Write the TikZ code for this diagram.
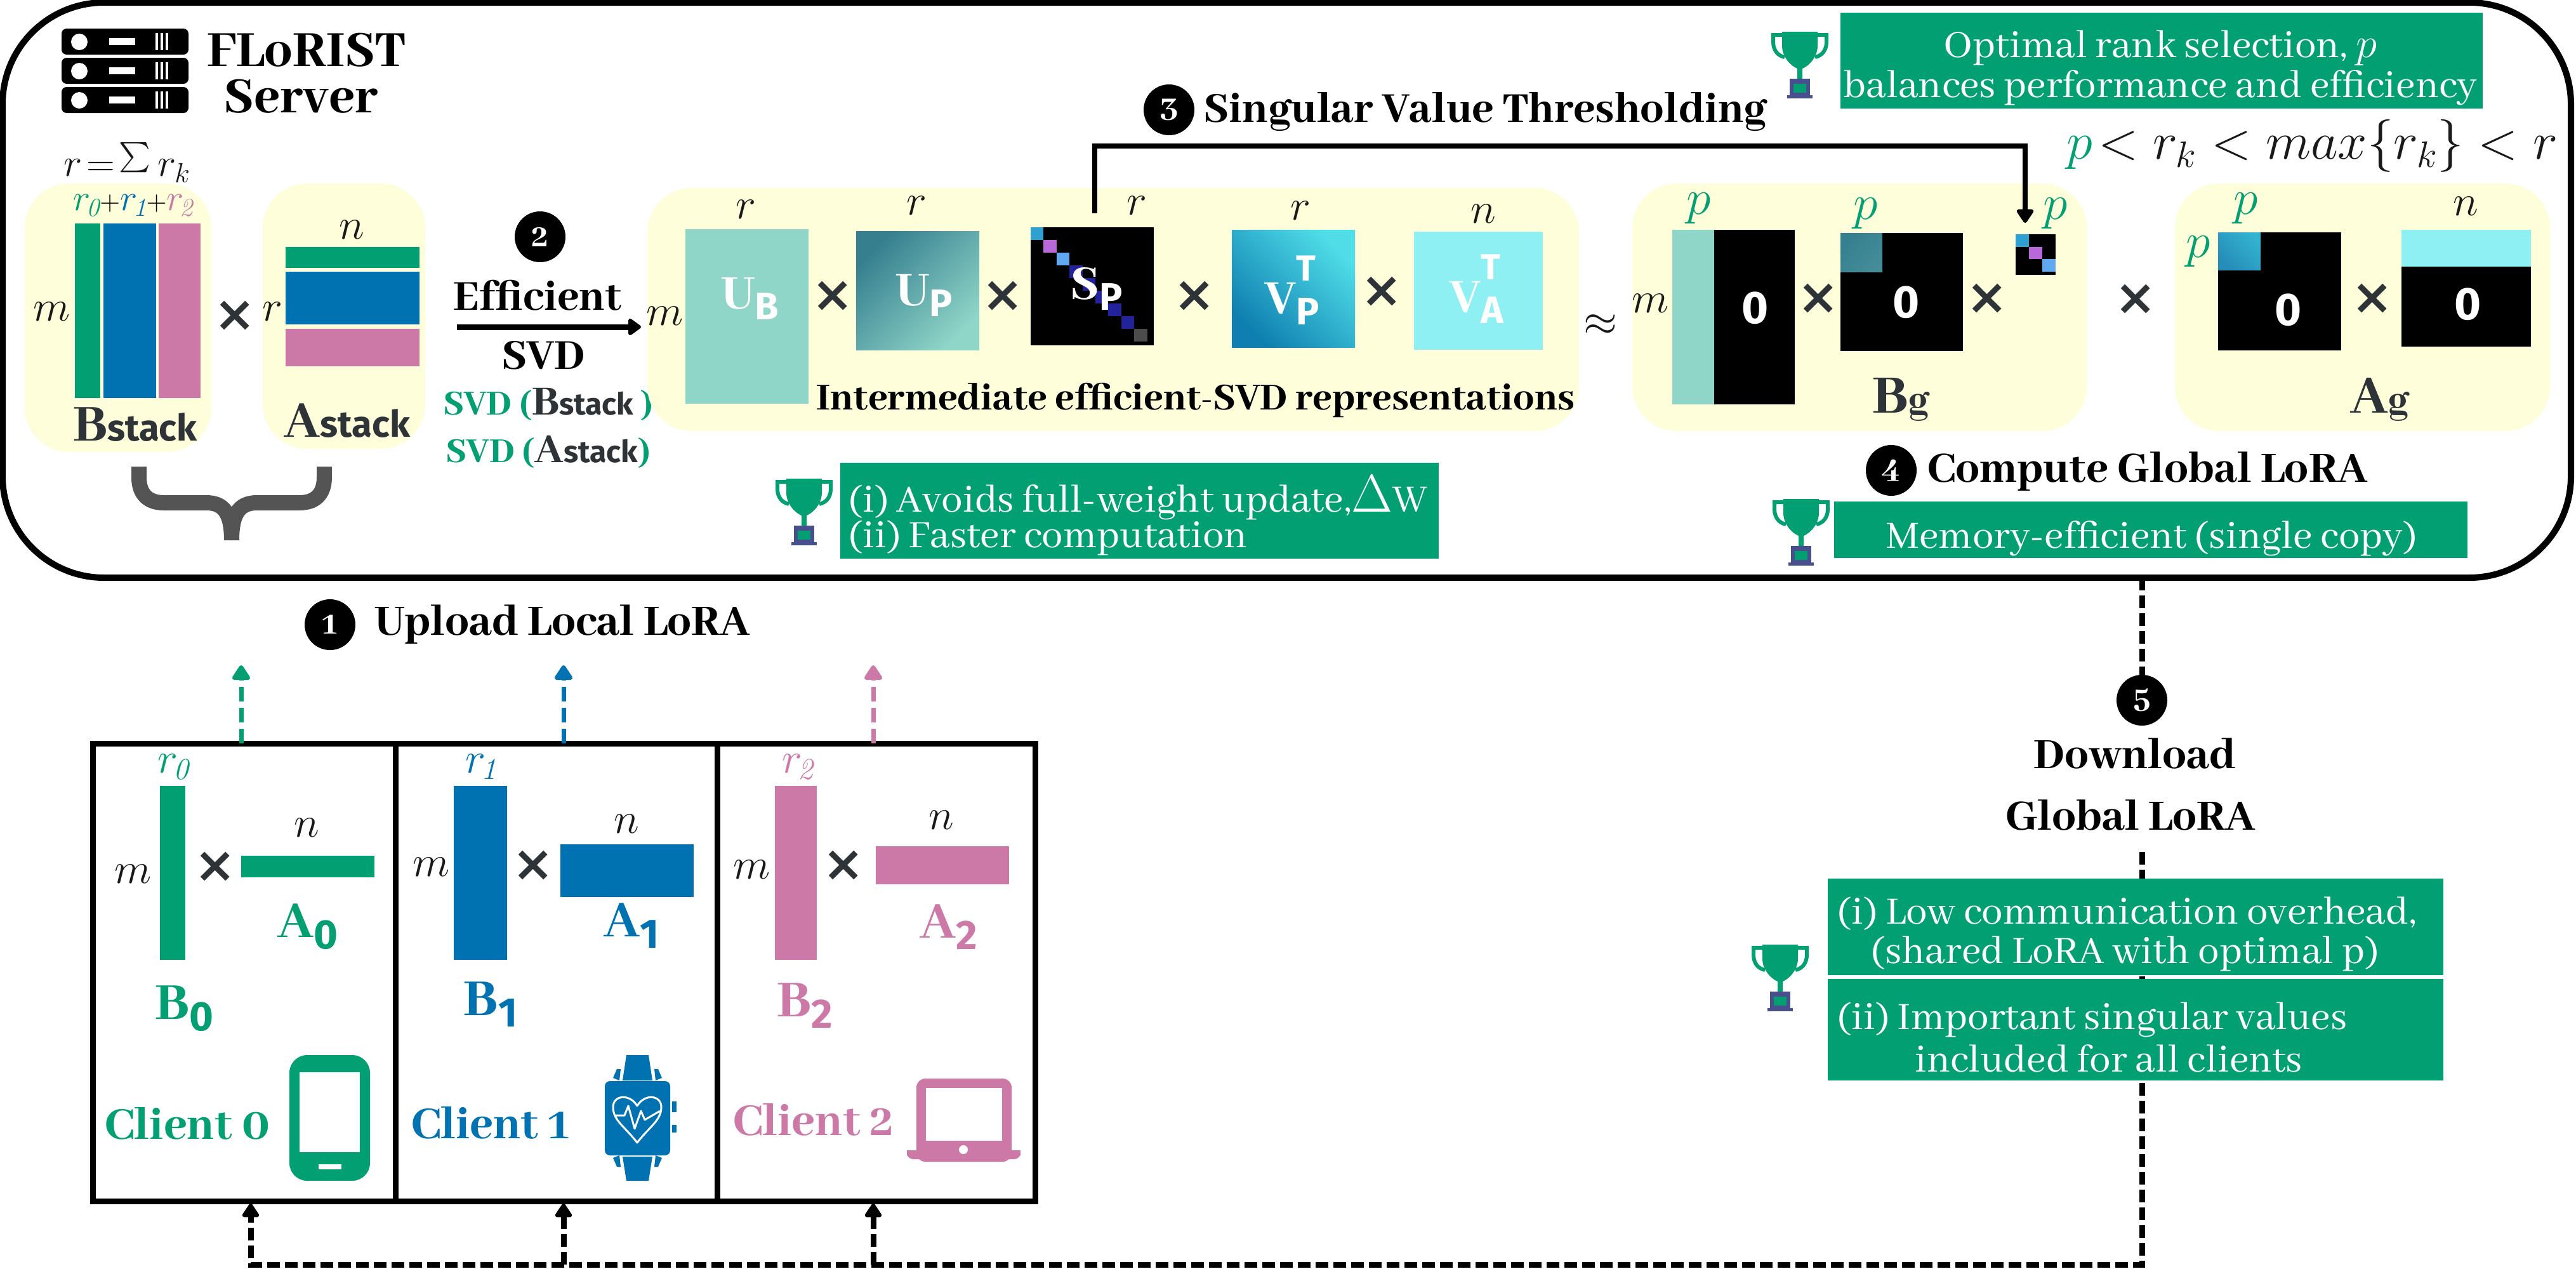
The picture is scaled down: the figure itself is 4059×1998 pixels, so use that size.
\documentclass[tikz,border=0pt]{standalone}
\usepackage{fix-cm}
\usepackage{amsmath}
\usepackage{fontspec}
\usetikzlibrary{arrows.meta,calc}
\newfontfamily\slab{Abhaya Libre}
\newfontfamily\slabx{Abhaya Libre ExtraBold}
\newfontfamily\sansx{Fira Sans}
\newfontfamily\crossfont{DejaVu Sans}
\definecolor{cgreen}{HTML}{029F73}
\definecolor{cblue}{HTML}{0072B2}
\definecolor{cpink}{HTML}{CC79A7}
\definecolor{cyellow}{HTML}{FEFFDA}
\definecolor{cdark}{HTML}{2E3338}
\definecolor{cteal}{HTML}{8FD5C8}
\definecolor{cteald}{HTML}{367F8F}
\definecolor{ccyan}{HTML}{8EF0F2}
\definecolor{cindigo}{HTML}{474F8D}
\definecolor{vplight}{HTML}{50DDE8}
\definecolor{vpdark}{HTML}{0E7FB0}
\definecolor{dgone}{HTML}{30A0D0}
\definecolor{dgtwo}{HTML}{B868D8}
\definecolor{dgthree}{HTML}{60A8F0}
\definecolor{dgfour}{HTML}{22229A}
\newcommand\fs[1]{\fontsize{#1}{#1}\selectfont}
\newcommand\matbox[6]{\node[matcell,minimum width={(#5-#3)*1pt},minimum height={(#6-#4)*1pt},#2] (#1) at ({(#3+#5)/2},{(#4+#6)/2}) {};}
\newcommand\subfig[2]{#1{\raisebox{-.2em}{\fontsize{.72em}{1em}\selectfont\sansx\bfseries #2}}}
\newcommand\rsub[1]{r_{\mkern-2mu\mathit{#1}}}
\newcommand\tinyplus{\mbox{\fs{44}$+$}}
\tikzset{
  matcell/.style={inner sep=0pt,outer sep=0pt,draw=none},
  panel/.style={matcell,fill=cyellow,rounded corners=70pt},
  plain/.style={inner sep=0pt,outer sep=0pt,font=\fs{68},text=black!90},
  plainp/.style={inner sep=0pt,outer sep=0pt,font=\fs{78},text=cgreen},
  rlab/.style={inner sep=0pt,outer sep=0pt,font=\fs{#1}},
  rlab/.default=58,
  cross/.style={inner sep=0pt,text=cdark,font=\crossfont\bfseries\fs{78}},
  head/.style={inner sep=0pt,font=\slabx\fs{#1},text=black,align=center},
  head/.default=74,
  stepnum/.style={circle,fill=black,text=white,inner sep=0pt,minimum size=80pt,font=\slabx\fs{56}},
  zero/.style={inner sep=0pt,text=white,font=\sansx\bfseries\fs{72}},
  inmat/.style={inner sep=0pt,text=white,font=\slabx\fs{84}},
  clientlab/.style={inner sep=0pt,font=\slabx\fs{90}},
  award/.style={matcell,fill=cgreen},
  awardtext/.style={inner sep=0pt,text=white,font=\slab\fs{#1},align=left},
  awardtext/.default=67,
  uplink/.style={line width=7pt,dash pattern=on 23pt off 10pt,-{Triangle[length=26pt,width=32pt,round]}},
  dlink/.style={line width=9pt,dash pattern=on 20pt off 8pt,black},
  dlarrow/.style={dlink,-{Triangle[length=24pt,width=30pt,round]}},
  trophy/.pic={
    \fill[cgreen] (-28,0) -- (28,0) -- (28,22) .. controls (28,40) and (14,54) .. (4,58) -- (4,80) -- (-4,80) -- (-4,58) .. controls (-14,54) and (-28,40) .. (-28,22) -- cycle;
    \draw[cgreen,line width=6pt] (-28,5) -- (-42,5) -- (-42,16) .. controls (-42,30) and (-34,38) .. (-24,40);
    \draw[cgreen,line width=6pt] (28,5) -- (42,5) -- (42,16) .. controls (42,30) and (34,38) .. (24,40);
    \fill[cindigo] (-16,74) -- (16,74) -- (16,100) -- (-16,100) -- cycle;
    \fill[cindigo] (-20,100) rectangle (20,105);
    \fill[cgreen] (-10,82) rectangle (10,96);
  }
}
\begin{document}
\begin{tikzpicture}[x=1pt,y=-1pt]
  \useasboundingbox (0,0) rectangle (4059,1998);

  \matbox{server}{draw=black,line width=10pt,rounded corners=160pt,fill=white}{4}{4}{4051}{910}

  % server icon
  \foreach \Y in {45,91,137} {
    \fill[black,rounded corners=8pt] (97,\Y) rectangle (297,\Y+41);
    \fill[white] (125,\Y+21) circle (13pt);
    \fill[white] (172,\Y+15) rectangle (213,\Y+26);
    \foreach \X in {245,253,261} \fill[white] (\X,\Y+7) rectangle (\X+4,\Y+34);
  }
  \node[head=88] (title1) at (483,79) {FLoRIST};
  \node[head=88] (title2) at (474,152) {Server};

  % stacked factors
  \matbox{bpanel}{panel}{39}{289}{333}{712}
  \matbox{apanel}{panel}{414}{289}{670}{707}
  \node[rlab=62,text=black!90] (rsum) at (200,256) {$r\!=\!\scalebox{1.9}{$\sum$}\,r_k$};
  \node[rlab] (rparts) at (210,324) {$\textcolor{cgreen}{\rsub 0}\tinyplus\textcolor{cblue}{\rsub 1}\tinyplus\textcolor{cpink}{\rsub 2}$};
  \matbox{bs0}{fill=cgreen}{118}{352}{158}{627}
  \matbox{bs1}{fill=cblue}{163}{352}{246}{627}
  \matbox{bs2}{fill=cpink}{250}{352}{316}{627}
  \matbox{as0}{fill=cgreen}{450}{389}{661}{422}
  \matbox{as1}{fill=cblue}{450}{428}{661}{511}
  \matbox{as2}{fill=cpink}{450}{518}{661}{577}
  \node[plain] (mstack) at (82,491) {$m$};
  \node[cross] (xstack) at (370,498) {×};
  \node[plain] (rstack) at (429,491) {$r$};
  \node[plain] (nstack) at (554,362) {$n$};
  \node[inner sep=0pt,text=cdark] (bstack) at (213,669) {\slabx\fs{90}B\sansx\bfseries\fs{58}stack};
  \node[inner sep=0pt,text=cdark] (astack) at (547,663) {\slabx\fs{90}A\sansx\bfseries\fs{58}stack};
  \draw[line width=24pt,draw=black!67] (219,735) -- (219,752) .. controls (219,780) and (235,792) .. (258,792) -- (325,792) .. controls (350,792) and (365,805) .. (365,851);
  \draw[line width=24pt,draw=black!67] (511,735) -- (511,752) .. controls (511,780) and (495,792) .. (472,792) -- (405,792) .. controls (380,792) and (365,805) .. (365,851);

  % efficient svd
  \node[stepnum] (step2) at (851,373) {2};
  \node[head] (effic) at (847,465) {Efficient};
  \node[head] (svd) at (856,560) {SVD};
  \coordinate (svdfrom) at (720,515);
  \coordinate (svdto) at (1010,515);
  \draw[line width=9pt,-{Triangle[length=22pt,width=30pt,round]}] (svdfrom) -- (svdto);
  \node[inner sep=0pt,text=cgreen] (svdb) at (864,637) {\slabx\fs{61}SVD (\textcolor{cdark}{\fs{72}B\sansx\bfseries\fs{48}stack} )};
  \node[inner sep=0pt,text=cgreen] (svda) at (864,712) {\slabx\fs{61}SVD (\textcolor{cdark}{\fs{72}A\sansx\bfseries\fs{48}stack})};

  % intermediate representations
  \matbox{midpanel}{panel}{1020}{296}{2488}{679}
  \matbox{ub}{fill=cteal}{1080}{361}{1274}{636}
  \matbox{up}{top color=cteald,bottom color=cteal,shading angle=45}{1349}{364}{1543}{551}
  \matbox{sp}{fill=black}{1624}{358}{1818}{544}
  \matbox{vp}{top color=vplight,bottom color=vpdark,shading angle=-45}{1941}{362}{2135}{547}
  \matbox{va}{fill=ccyan}{2228}{365}{2431}{551}
  \foreach \i/\c in {0/dgone,1/dgtwo,2/dgthree,3/dgfour,4/dgfour,5/dgfour,6/dgfour,7/dgfour,8/black!70} {
    \fill[\c] (1624+20.4*\i,358+20*\i) rectangle ++(20.4,20);
  }
  \node[plain] (r1) at (1175,330) {$r$};
  \node[plain] (r2) at (1444,324) {$r$};
  \node[plain] (r3) at (1791,324) {$r$};
  \node[plain] (r4) at (2049,332) {$r$};
  \node[plain] (n1) at (2337,337) {$n$};
  \node[plain] (m1) at (1048,498) {$m$};
  \node[cross] (x1) at (1312,467) {×};
  \node[cross] (x2) at (1580,467) {×};
  \node[cross] (x3) at (1882,467) {×};
  \node[cross] (x4) at (2177,460) {×};
  \node[plain] (approx) at (2522,512) {$\approx$};
  \node[inmat] (lub) at (1182,470) {\subfig{U}{B}};
  \node[inmat] (lup) at (1456,465) {\subfig{U}{P}};
  \node[inmat] (lsp) at (1728,455) {\subfig{S}{P}};
  \node[inmat] (lvp) at (2036,457) {V\rlap{\raisebox{.62em}{\fontsize{.68em}{1em}\selectfont\sansx\bfseries T}}\subfig{}{P}};
  \node[inmat] (lva) at (2327,455) {V\rlap{\raisebox{.62em}{\fontsize{.68em}{1em}\selectfont\sansx\bfseries T}}\subfig{}{A}};
  \node[head=66] (interm) at (1884,631) {Intermediate efficient-SVD representations};

  % thresholding
  \node[stepnum] (step3) at (1842,173) {3};
  \node[head,anchor=west] (thresh) at (1896,176) {Singular Value Thresholding};
  \pic at (2836,50) {trophy};
  \matbox{tbox}{award}{2900}{20}{3912}{171}
  \node[awardtext,align=center] (ttext) at (3404,107) {Optimal rank selection, $p$\\[-4pt]balances performance and efficiency};
  \node[plain,font=\fs{83},anchor=west] (ineq) at (3256,230) {$\textcolor{cgreen}{p}\!<r_k<max\{r_k\}<r$};

  % global factors
  \matbox{bgpanel}{panel}{2572}{289}{3288}{679}
  \matbox{agpanel}{panel}{3427}{289}{4018}{679}
  \matbox{bg0}{fill=black}{2701}{362}{2828}{637}
  \matbox{bg1}{fill=cteal}{2635}{362}{2701}{637}
  \matbox{bg2}{fill=black}{2900}{367}{3093}{553}
  \matbox{bg3}{top color=cteald,bottom color=cteald!85!cteal,shading angle=45}{2900}{367}{2966}{428}
  \matbox{bg4}{fill=black}{3176}{369}{3239}{433}
  \fill[dgone] (3176,369) rectangle ++(21,20);
  \fill[dgtwo] (3197,389) rectangle ++(21,19);
  \fill[dgthree] (3218,408) rectangle ++(21,20);
  \matbox{ag0}{fill=black}{3495}{366}{3689}{552}
  \matbox{ag1}{bottom color=vpdark!90!white,top color=vplight!55!vpdark,shading angle=-45}{3495}{366}{3562}{425}
  \matbox{ag2}{fill=black}{3784}{362}{3988}{546}
  \matbox{ag3}{fill=ccyan}{3784}{362}{3988}{420}
  \node[plainp] (p1) at (2677,328) {$p$};
  \node[plainp] (p2) at (2940,336) {$p$};
  \node[plainp] (p3) at (3239,336) {$p$};
  \node[plainp] (p4) at (3539,328) {$p$};
  \node[plainp] (p5) at (3464,396) {$p$};
  \node[plain] (n2) at (3885,325) {$n$};
  \node[plain] (m2) at (2601,478) {$m$};
  \node[zero] (z1) at (2766,485) {0};
  \node[zero] (z2) at (3004,476) {0};
  \node[zero] (z3) at (3606,488) {0};
  \node[zero] (z4) at (3889,479) {0};
  \node[cross] (x5) at (2865,471) {×};
  \node[cross] (x6) at (3131,471) {×};
  \node[cross] (x7) at (3365,472) {×};
  \node[cross] (x8) at (3738,471) {×};
  \node[inner sep=0pt,text=cdark] (bg) at (2995,629) {\slabx\fs{94}B\fs{68}g};
  \node[inner sep=0pt,text=cdark] (ag) at (3750,629) {\slabx\fs{94}A\fs{68}g};

  \coordinate (thrfrom) at (1725,336);
  \coordinate (thrturn) at (1725,230);
  \coordinate (thrto) at (3191,351);
  \draw[line width=8pt,-{Triangle[length=24pt,width=30pt,round]}] (thrfrom) -- (thrturn) -| (thrto);

  \node[stepnum] (step4) at (2980,741) {4};
  \node[head=75,anchor=west] (compute) at (3037,743) {Compute Global LoRA};
  \pic at (2838,786) {trophy};
  \matbox{mbox}{award}{2890}{790}{3888}{879}
  \node[awardtext] (mtext) at (3390,848) {Memory-efficient (single copy)};

  \pic at (1267,754) {trophy};
  \matbox{ibox}{award}{1324}{729}{2267}{880}
  \node[awardtext,anchor=west] (itext1) at (1337,784) {(i) Avoids full-weight update,{\fs{84}$\Delta$}W};
  \node[awardtext,anchor=west] (itext2) at (1337,847) {(ii) Faster computation};

  % download path
  \node[stepnum] (step5) at (3375,1103) {5};
  \coordinate (dlgap) at (3375,1342);
  \coordinate (dlbot) at (3375,1992);
  \coordinate (dl0) at (395,1992);
  \coordinate (dl1) at (888,1992);
  \coordinate (dl2) at (1376,1992);
  \coordinate (in0) at (395,1896);
  \coordinate (in1) at (888,1896);
  \coordinate (in2) at (1376,1896);
  \coordinate (dlstart) at (3375,910);
  \draw[dlink] (dlstart) -- (step5);
  \draw[dlarrow] (dlgap) -- (dlbot) -- (dl0) -- (in0);
  \draw[dlarrow] (dl1) -- (in1);
  \draw[dlarrow] (dl2) -- (in2);
  \node[head=75] (dl1text) at (3364,1187) {Download};
  \node[head=75] (dl2text) at (3357,1284) {Global LoRA};
  \pic at (2805,1488) {trophy};
  \matbox{dbox1}{award}{2880}{1384}{3850}{1536}
  \matbox{dbox2}{award}{2880}{1542}{3850}{1702}
  \node[awardtext,anchor=west] (dt1) at (2895,1439) {(i) Low communication overhead,};
  \node[awardtext,anchor=west] (dt2) at (2948,1502) {(shared LoRA with optimal p)};
  \node[awardtext,anchor=west] (dt3) at (2895,1606) {(ii) Important singular values};
  \node[awardtext,anchor=west] (dt4) at (3017,1667) {included for all clients};

  % clients
  \node[stepnum] (step1) at (520,984) {1};
  \node[head=75,anchor=west] (upload) at (590,984) {Upload Local LoRA};
  \matbox{cl0}{draw=black,line width=9pt}{146}{1171}{623}{1892}
  \matbox{cl1}{draw=black,line width=9pt}{623}{1171}{1130}{1892}
  \matbox{cl2}{draw=black,line width=9pt}{1130}{1171}{1631}{1892}
  \coordinate (up0) at (380,1048);
  \coordinate (up1) at (888,1048);
  \coordinate (up2) at (1376,1048);
  \draw[uplink,cgreen] (up0 |- cl0.north) -- (up0);
  \draw[uplink,cblue] (up1 |- cl1.north) -- (up1);
  \draw[uplink,cpink] (up2 |- cl2.north) -- (up2);

  \node[rlab=68,text=cgreen] (cr0) at (273,1208) {$\rsub 0$};
  \node[rlab=68,text=cblue] (cr1) at (758,1208) {$\rsub 1$};
  \node[rlab=68,text=cpink] (cr2) at (1257,1208) {$\rsub 2$};
  \matbox{b0}{fill=cgreen}{252}{1238}{292}{1512}
  \matbox{b1}{fill=cblue}{715}{1238}{799}{1512}
  \matbox{b2}{fill=cpink}{1221}{1238}{1287}{1512}
  \matbox{a0}{fill=cgreen}{380}{1348}{590}{1382}
  \matbox{a1}{fill=cblue}{883}{1330}{1093}{1413}
  \matbox{a2}{fill=cpink}{1380}{1333}{1590}{1393}
  \node[plain] (cm0) at (210,1377) {$m$};
  \node[plain] (cm1) at (680,1366) {$m$};
  \node[plain] (cm2) at (1185,1370) {$m$};
  \node[cross] (cx0) at (339,1366) {×};
  \node[cross] (cx1) at (840,1364) {×};
  \node[cross] (cx2) at (1329,1364) {×};
  \node[plain] (cn0) at (483,1304) {$n$};
  \node[plain] (cn1) at (987,1298) {$n$};
  \node[plain] (cn2) at (1483,1292) {$n$};
  \node[clientlab,text=cgreen] (la0) at (485,1460) {\subfig{A}{0}};
  \node[clientlab,text=cblue] (la1) at (995,1458) {\subfig{A}{1}};
  \node[clientlab,text=cpink] (la2) at (1495,1460) {\subfig{A}{2}};
  \node[clientlab,text=cgreen] (lb0) at (290,1589) {\subfig{B}{0}};
  \node[clientlab,text=cblue] (lb1) at (773,1582) {\subfig{B}{1}};
  \node[clientlab,text=cpink] (lb2) at (1268,1584) {\subfig{B}{2}};
  \node[head=79,text=cgreen] (name0) at (295,1770) {Client 0};
  \node[head=79,text=cblue] (name1) at (773,1769) {Client 1};
  \node[head=79,text=cpink] (name2) at (1282,1764) {Client 2};

  % devices
  \fill[cgreen,rounded corners=28pt] (456,1662) rectangle (583,1860);
  \fill[white] (472,1689) rectangle (567,1815);
  \fill[white] (502,1834) rectangle (538,1842);

  \fill[cblue] (987,1662) -- (1022,1662) -- (1028,1702) -- (981,1702) -- cycle;
  \fill[cblue] (981,1822) -- (1028,1822) -- (1022,1860) -- (987,1860) -- cycle;
  \fill[cblue] (966,1698) -- (972,1684) -- (978,1684) -- (976,1702) -- cycle;
  \fill[cblue] (1043,1698) -- (1037,1684) -- (1031,1684) -- (1033,1702) -- cycle;
  \fill[cblue] (966,1824) -- (972,1838) -- (978,1838) -- (976,1820) -- cycle;
  \fill[cblue] (1043,1824) -- (1037,1838) -- (1031,1838) -- (1033,1820) -- cycle;
  \fill[cblue,rounded corners=8pt] (953,1703) rectangle (1056,1820);
  \fill[cblue] (1059,1735) rectangle (1066,1752);
  \fill[cblue] (1059,1772) rectangle (1066,1784);
  \draw[white,line width=3pt,line join=round] (1004,1800) .. controls (985,1775) and (966,1765) .. (966,1744) .. controls (966,1725) and (992,1722) .. (1004,1742) .. controls (1016,1722) and (1042,1725) .. (1042,1744) .. controls (1042,1765) and (1023,1775) .. (1004,1800) -- cycle;
  \draw[white,line width=3pt,line join=round] (970,1757) -- (984,1757) -- (990,1742) -- (1000,1778) -- (1010,1750) -- (1016,1764) -- (1040,1750);

  \fill[cpink,rounded corners=14pt] (1444,1699) rectangle (1594,1830);
  \fill[white] (1459,1714) rectangle (1579,1797);
  \fill[cpink,rounded corners=10pt] (1429,1812) rectangle (1608,1826);
  \fill[cpink] (1429,1812) rectangle (1608,1820);
  \fill[white] (1518,1811) ellipse (7pt and 7pt);
\end{tikzpicture}
\end{document}
